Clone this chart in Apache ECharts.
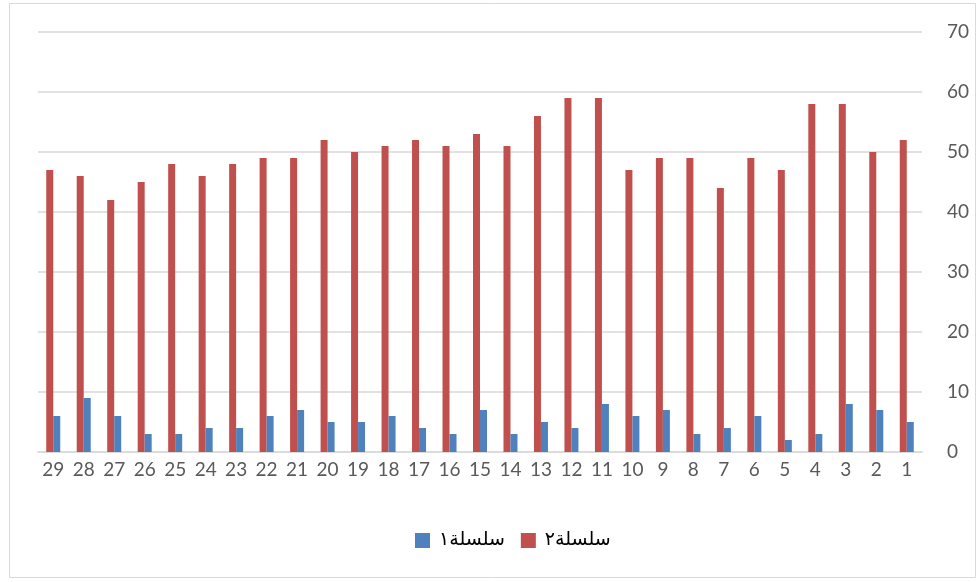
<!DOCTYPE html>
<html>
<head>
<meta charset="utf-8">
<style>
  html, body { margin: 0; padding: 0; background: #fff; }
  #chart { width: 979px; height: 582px; }
</style>
<script src="https://cdn.jsdelivr.net/npm/echarts@6/dist/echarts.min.js"></script>
</head>
<body>
<div id="chart"></div>
<script>
// الفئات 1..29 (المحور معكوس، يبدأ من اليمين)
const categories = ['1','2','3','4','5','6','7','8','9','10','11','12','13','14','15','16','17','18','19','20','21','22','23','24','25','26','27','28','29'];
// سلسلة١ (أزرق)
const series1 = [5, 7, 8, 3, 2, 6, 4, 3, 7, 6, 8, 4, 5, 3, 7, 3, 4, 6, 5, 5, 7, 6, 4, 4, 3, 3, 6, 9, 6];
// سلسلة٢ (أحمر)
const series2 = [52, 50, 58, 58, 47, 49, 44, 49, 49, 47, 59, 59, 56, 51, 53, 51, 52, 51, 50, 52, 49, 49, 48, 46, 48, 45, 42, 46, 47];

const chart = echarts.init(document.getElementById('chart'));

const option = {
  animation: false,
  textStyle: { fontFamily: 'Lato, "Open Sans", sans-serif' },
  graphic: [{
    type: 'rect',
    shape: { x: 9.5, y: 3.5, width: 966, height: 574 },
    style: { fill: 'none', stroke: '#d9d9d9', lineWidth: 1 },
    silent: true
  }],
  grid: { left: 38, right: 57, top: 32, bottom: 130 },
  legend: {
    top: 526,
    left: 410,
    icon: 'rect',
    itemWidth: 15,
    itemHeight: 15,
    itemGap: 16,
    data: ['سلسلة١', 'سلسلة٢'],
    textStyle: { fontFamily: '"DejaVu Sans", serif', fontSize: 19, color: '#000', padding: [0, 0, 0, 4] }
  },
  xAxis: {
    type: 'category',
    inverse: true,
    data: categories,
    axisLine: { lineStyle: { color: '#d9d9d9', width: 1.5 } },
    axisTick: { show: false },
    axisLabel: { color: '#595959', fontSize: 19, margin: 8, interval: 0 }
  },
  yAxis: {
    type: 'value',
    position: 'right',
    min: 0,
    max: 70,
    interval: 10,
    axisLine: { show: false },
    axisTick: { show: false },
    axisLabel: { color: '#595959', fontSize: 19, margin: 25, align: 'left' },
    splitLine: { lineStyle: { color: '#d9d9d9', width: 1.5 } }
  },
  series: [
    {
      name: 'سلسلة٢',
      type: 'bar',
      data: series2,
      barWidth: 7,
      barGap: '0%',
      itemStyle: { color: '#c0504d' }
    },
    {
      name: 'سلسلة١',
      type: 'bar',
      data: series1,
      barWidth: 7,
      barGap: '0%',
      itemStyle: { color: '#4f81bd' }
    }
  ]
};

chart.setOption(option);
</script>
</body>
</html>
